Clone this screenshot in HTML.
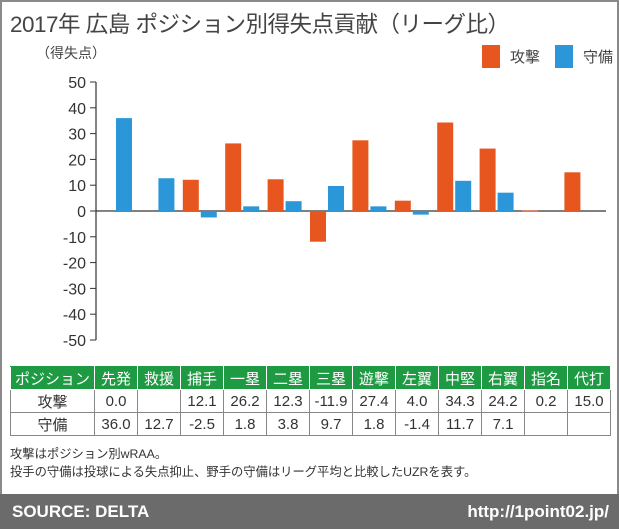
<!DOCTYPE html>
<html><head><meta charset="utf-8"><style>
body{margin:0;width:619px;height:529px;overflow:hidden;background:#fff;font-family:"Liberation Sans","Noto Sans CJK JP",sans-serif;}
#frame{position:absolute;left:0;top:0;width:615px;height:525px;border:2px solid #8a8a8a;}
#title{position:absolute;left:10px;top:7px;font-size:22.5px;color:#444;letter-spacing:-0.5px;}
table{position:absolute;left:10px;top:366px;border-collapse:collapse;font-size:15px;color:#333;}
td{border:1px solid #888;text-align:center;height:22px;padding:0;}
tr.h td{background:#1e9a43;color:#fff;border-color:#fff;border-top-color:#1e9a43;}
#notes{position:absolute;left:10px;top:445px;font-size:12.3px;color:#333;line-height:18px;}
#footer{position:absolute;left:0;top:494px;width:619px;height:35px;background:#6b6b6b;color:#fff;font-weight:bold;font-size:17px;}
</style></head><body>
<div id="frame"></div>
<div id="title">2017年 広島 ポジション別得失点貢献（リーグ比）</div>
<svg id="chart" width="619" height="360" style="position:absolute;left:0;top:0"></svg>
<table>
<tr class="h"><td style="width:83px">ポジション</td><td style="width:42px">先発</td><td style="width:42px">救援</td><td style="width:42px">捕手</td><td style="width:42px">一塁</td><td style="width:42px">二塁</td><td style="width:42px">三塁</td><td style="width:42px">遊撃</td><td style="width:42px">左翼</td><td style="width:42px">中堅</td><td style="width:42px">右翼</td><td style="width:42px">指名</td><td style="width:42px">代打</td></tr>
<tr><td>攻撃</td><td>0.0</td><td></td><td>12.1</td><td>26.2</td><td>12.3</td><td>-11.9</td><td>27.4</td><td>4.0</td><td>34.3</td><td>24.2</td><td>0.2</td><td>15.0</td></tr>
<tr><td>守備</td><td>36.0</td><td>12.7</td><td>-2.5</td><td>1.8</td><td>3.8</td><td>9.7</td><td>1.8</td><td>-1.4</td><td>11.7</td><td>7.1</td><td></td><td></td></tr>
</table>
<div id="notes">攻撃はポジション別wRAA。<br>投手の守備は投球による失点抑止、野手の守備はリーグ平均と比較したUZRを表す。</div>
<div id="footer"><span style="position:absolute;left:12px;top:8px">SOURCE: DELTA</span><span style="position:absolute;right:10px;top:8px">http://1point02.jp/</span></div>
<script>
const categories=["先発","救援","捕手","一塁","二塁","三塁","遊撃","左翼","中堅","右翼","指名","代打"];
const offense=[0.0,null,12.1,26.2,12.3,-11.9,27.4,4.0,34.3,24.2,0.2,15.0];
const defense=[36.0,12.7,-2.5,1.8,3.8,9.7,1.8,-1.4,11.7,7.1,null,null];
const ticks=[50,40,30,20,10,0,-10,-20,-30,-40,-50];
const svg=document.getElementById('chart');const NS='http://www.w3.org/2000/svg';
const y=v=>211-v*2.58;const gx=i=>96+i*42.4;
function mk(t,a){const e=document.createElementNS(NS,t);for(const k in a)e.setAttribute(k,a[k]);svg.appendChild(e);return e;}
let l=mk('line',{x1:96,x2:96,y1:y(50),y2:y(-50),stroke:'#333','stroke-width':1.2});

ticks.forEach(t=>{const k=mk('line',{x1:90,x2:96,y1:y(t),y2:y(t),stroke:'#333'});

const tx=mk('text',{x:86,y:y(t)+6,'text-anchor':'end','font-size':16,fill:'#333'});tx.textContent=t;
});
const z=mk('line',{x1:96,x2:606,y1:y(0),y2:y(0),stroke:'#333','stroke-width':1.2});

categories.forEach((c,i)=>{
[[offense,2,'#e8561f','bar-offense'],[defense,20,'#2b97d8','bar-defense']].forEach(([arr,o,col,nm])=>{
const v=arr[i];if(v===null)return;
const r=mk('rect',{x:gx(i)+o,width:16,y:Math.min(y(v),y(0)),height:Math.max(Math.abs(y(v)-y(0)),0.8),fill:col});
});});
const yt=mk('text',{x:36,y:58,'font-size':14,fill:'#444'});yt.textContent='（得失点）';

[[482,'#e8561f','攻撃'],[555,'#2b97d8','守備']].forEach(([x,c,t])=>{
const r=mk('rect',{x:x,y:45,width:18,height:23,fill:c});
const tx=mk('text',{x:x+28,y:62,'font-size':15,fill:'#444'});tx.textContent=t;
});
</script>
</body></html>
